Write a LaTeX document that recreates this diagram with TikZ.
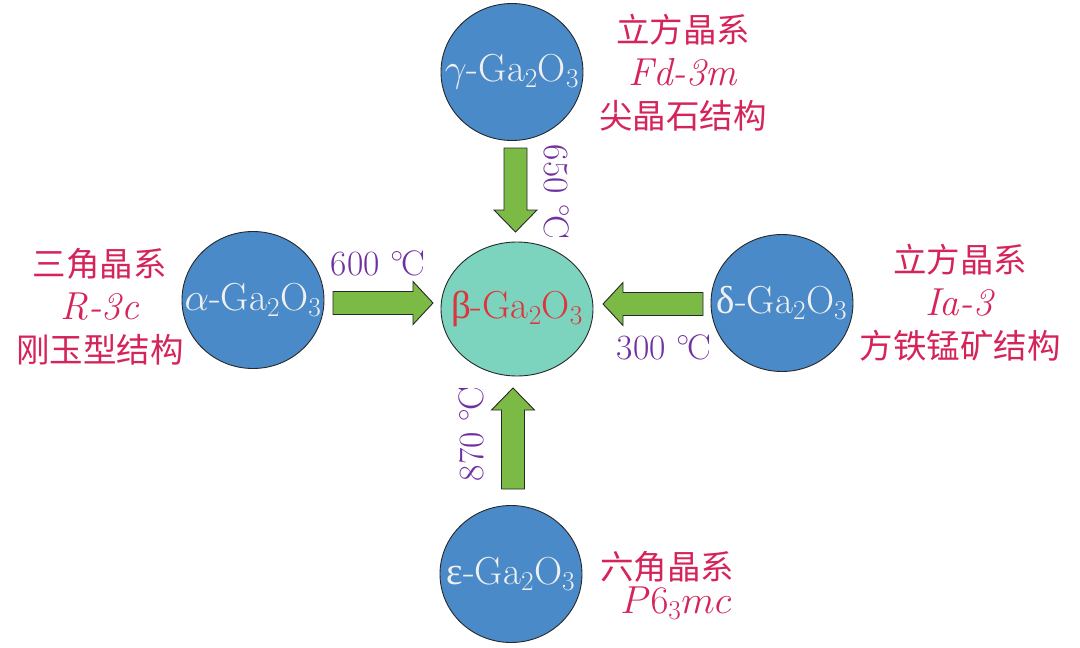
\documentclass[tikz,border=0pt]{standalone}
\usepackage{fix-cm}
\usepackage{fontspec}
\newfontfamily\cjk{Noto Sans CJK SC}
\newfontfamily\grk{Liberation Serif}
\definecolor{cblue}{RGB}{74,138,200}
\definecolor{cteal}{RGB}{125,212,190}
\definecolor{cgreen}{RGB}{124,186,70}
\definecolor{cpurple}{RGB}{112,48,160}
\definecolor{ccrimson}{RGB}{212,36,90}
\definecolor{cred}{RGB}{222,52,60}
\definecolor{cedge}{RGB}{40,40,40}
\newcommand\degC{\ensuremath{^\circ}\kern-0.06em C}
\newcommand\latsize{\fontsize{39}{43}\selectfont}
\newcommand\fatV[4]{% x, tail y, tip y, head base y
  \draw[arrowsty] (#1-11.5,#2) -- (#1+11.5,#2) -- (#1+11.5,#4) -- (#1+21.5,#4) -- (#1,#3) -- (#1-21.5,#4) -- (#1-11.5,#4) -- cycle;}
\newcommand\fatH[4]{% y, tail x, tip x, head base x
  \draw[arrowsty] (#2,#1-11.5) -- (#2,#1+11.5) -- (#4,#1+11.5) -- (#4,#1+21.5) -- (#3,#1) -- (#4,#1-21.5) -- (#4,#1-11.5) -- cycle;}
\tikzset{
  phase/.style={ellipse, draw=cedge, line width=0.9pt, fill=cblue, minimum width=142pt, minimum height=137pt, inner sep=0pt},
  phasetext/.style={text=white!94!black, font=\fontsize{39}{42}\selectfont, inner sep=0pt},
  arrowsty/.style={draw=cedge, line width=0.9pt, fill=cgreen},
  temp/.style={text=cpurple, font=\fontsize{35.5}{38}\selectfont, inner sep=0pt},
  info/.style={text=ccrimson, font=\fontsize{33.5}{43}\selectfont, align=center, inner sep=0pt},
  lat/.style={font=\latsize}
}
\usetikzlibrary{shapes.geometric}
\begin{document}
\begin{tikzpicture}[x=1pt,y=-1pt]
\useasboundingbox (0,0) rectangle (1080,648);
% phases
\node[phase] (gamma) at (512,72) {};
\node[phasetext] at (gamma) {$\gamma$-Ga$_2$O$_3$};
\node[phase] (alpha) at (253,300) {};
\node[phasetext] at (alpha) {$\alpha$-Ga$_2$O$_3$};
\node[phase] (delta) at (782,303) {};
\node[phasetext] at (delta) {{\grk δ}-Ga$_2$O$_3$};
\node[phase] (eps) at (511,574) {};
\node[phasetext] at (eps) {{\grk ε}-Ga$_2$O$_3$};
\node[phase, fill=cteal, minimum width=152pt, minimum height=134pt] (beta) at (517,309) {};
\node[phasetext, text=cred] at (beta) {{\grk β}-Ga$_2$O$_3$};
% arrows
\fatV{515.5}{148}{232}{210}
\fatH{303}{333}{433}{413}
\fatH{304}{703}{603}{623}
\fatV{513}{489}{388}{410}
% temperatures
\node[temp] (t600) at (378,263) {600 \degC};
\node[temp] (t300) at (664,347) {300 \degC};
\node[temp, rotate=-90] (t650) at (557,192) {650 \degC};
\node[temp, rotate=90] (t870) at (471,434) {870 \degC};
% crystal info
\node[info] (ig) at (683,73) {{\cjk 立方晶系}\\{\latsize\textit{Fd-3m}}\\{\cjk 尖晶石结构}};
\node[info] (ia) at (100,307) {{\cjk 三角晶系}\\{\latsize\textit{R-3c}}\\{\cjk 刚玉型结构}};
\node[info] (id) at (960,303) {{\cjk 立方晶系}\\{\latsize\textit{Ia-3}}\\{\cjk 方铁锰矿结构}};
\node[info] (ie) at (667,567) {\cjk 六角晶系};
\node[info, lat] (ie2) at (676,603) {$P6_3mc$};
\end{tikzpicture}
\end{document}
